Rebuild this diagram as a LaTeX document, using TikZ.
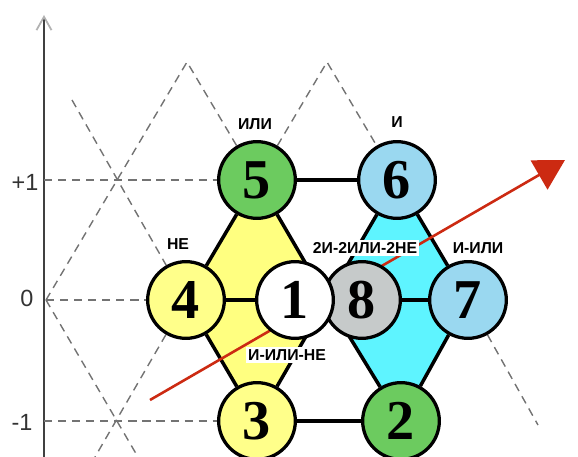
\documentclass[tikz,border=0pt]{standalone}
\usepackage{fontspec}
\setmainfont{Liberation Serif}
\newfontfamily\lsans{Liberation Sans}
\usepackage{tikz}
\usetikzlibrary{arrows.meta,backgrounds}
\definecolor{elgreen}{HTML}{6CCB5F}
\definecolor{elblue}{HTML}{9AD8F0}
\definecolor{elgray}{HTML}{C6CACA}
\definecolor{elyellow}{HTML}{FFFF8A}
\definecolor{fieldyellow}{HTML}{FFFF80}
\definecolor{fieldcyan}{HTML}{5EF4FF}
\definecolor{vecred}{HTML}{CC2A12}
\tikzset{
  % elementen
  el/.style={circle,draw=black,line width=2.8pt,inner sep=0pt,minimum size=2.3cm,
             font=\fontsize{48}{48}\selectfont\bfseries},
  elg/.style={el,fill=elgreen},
  elb/.style={el,fill=elblue},
  ely/.style={el,fill=elyellow},
  els/.style={el,fill=elgray},
  elw/.style={el,fill=white},
  ec/.style={draw=black,line width=3pt},
  % gitter och axel
  lat/.style={draw=black!55,line width=1.2pt,dash pattern=on 7pt off 5pt},
  lev/.style={font=\lsans\fontsize{20}{20}\selectfont,text=black!80,inner sep=0pt},
  ax/.style={draw=black!75,line width=2.2pt,
             -{Straight Barb[length=4mm,width=4.5mm,color=black!30,line width=1.5pt]}},
  vec/.style={draw=vecred,line width=2.2pt,-{Triangle[length=9mm,width=10mm]}},
  % funktioner
  fn/.style={font=\lsans\bfseries\fontsize{13.5}{14}\selectfont,inner sep=1.5pt},
  fnw/.style={fn,fill=white,inner sep=2pt},
}
\begin{document}
\begin{tikzpicture}[x=0.03cm,y=-0.03cm]
\useasboundingbox (0,0) rectangle (578,457);
  \coordinate (a0) at (44,457);
  \coordinate (a1) at (44,15);
  \coordinate (l1) at (44,180);
  \coordinate (l0) at (46,300);
  \coordinate (lm) at (44,421);
  \node[lev] (tp) at (25,182) {+1};
  \node[lev] (tz) at (27,298) {0};
  \node[lev] (tm) at (22,422) {-1};
  \node[elg] (n5) at (257,180) {5};
  \node[elb] (n6) at (397,180) {6};
  \node[ely] (n4) at (186,300) {4};
  \node[elb] (n7) at (468,300) {7};
  \node[ely] (n3) at (257,421) {3};
  \node[elg] (n2) at (401,421) {2};
  \node[els] (n8) at (362,300) {8};
  \node[elw] (n1) at (295,300) {1};
  \coordinate (c) at (327,300);
  \coordinate (p1) at (187,62);
  \coordinate (p2) at (327,62);
  \coordinate (u1) at (72,100);
  \coordinate (b1) at (138,457);
  \coordinate (b2) at (95,457);
  \coordinate (b3) at (538,425);
  \coordinate (r0) at (150,400);
  \coordinate (r1) at (565,160);
  \begin{scope}[on background layer]
    \fill[fieldyellow] (n5.center) -- (n4.center) -- (n3.center) -- (c) -- cycle;
    \fill[fieldcyan] (n6.center) -- (c) -- (n2.center) -- (n7.center) -- cycle;
    \draw[ax] (a0) -- (a1);
    \draw[lat] (l1) -- (n5);
    \draw[lat] (l0) -- (n4);
    \draw[lat] (lm) -- (n3);
    \draw[lat] (l0) -- (p1) -- (n5);
    \draw[lat] (u1) -- (n4);
    \draw[lat] (l0) -- (b1);
    \draw[lat] (n4) -- (b2);
    \draw[lat] (n5) -- (p2) -- (n6);
    \draw[lat] (n7) -- (b3);
    \draw[ec] (n5) -- (n6);
    \draw[ec] (n6) -- (n7);
    \draw[ec] (n7) -- (n2);
    \draw[ec] (n2) -- (n3);
    \draw[ec] (n3) -- (n4);
    \draw[ec] (n4) -- (n5);
    \draw[ec] (c) -- (n5);
    \draw[ec] (c) -- (n6);
    \draw[ec] (c) -- (n3);
    \draw[ec] (c) -- (n2);
    \draw[ec] (n4) -- (n1);
    \draw[ec] (n8) -- (n7);
    \draw[vec] (r0) -- (r1);
  \end{scope}
  \node[fn] (t5) at (255,124) {ИЛИ};
  \node[fn] (t6) at (397,122) {И};
  \node[fn] (t4) at (178,244) {НЕ};
  \node[fnw] (t18) at (365,248) {2И-2ИЛИ-2НЕ};
  \node[fn] (t7) at (478,248) {И-ИЛИ};
  \node[fnw] (t13) at (287,355) {И-ИЛИ-НЕ};
\end{tikzpicture}
\end{document}
